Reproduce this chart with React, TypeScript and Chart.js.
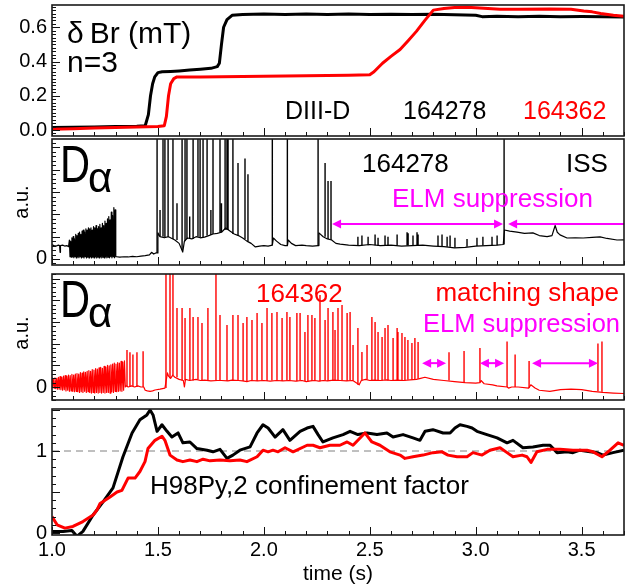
import { useEffect, useRef } from "react";
import { Chart, registerables } from "chart.js";

Chart.register(...registerables);

const FONT = "'Liberation Sans', Arial, Helvetica, sans-serif";
Chart.defaults.font.family = FONT;

type Pt = [number, number];
type Spike = [number, number, number]; // time, base, peak
type Arrow = [number, number, number, number, number]; // t0, t1, level, headLeft, headRight

// ---------------- shared time axis ----------------
const X_MIN = 1.0;
const X_MAX = 3.7;
const xLabelTicks = [1.0, 1.5, 2.0, 2.5, 3.0, 3.5];
const xMinorStep = 0.1;

// ---------------- panel 1: delta Br (mT), n=3 ----------------
const dBr164278: Pt[] = [
  [1.0, 0.015], [1.1, 0.016], [1.2, 0.018], [1.3, 0.02], [1.4, 0.022], [1.44, 0.025], [1.455, 0.09],
  [1.465, 0.2], [1.475, 0.27], [1.485, 0.31], [1.5, 0.335], [1.52, 0.34], [1.56, 0.342], [1.6, 0.345],
  [1.65, 0.35], [1.7, 0.355], [1.75, 0.36], [1.78, 0.37], [1.79, 0.39], [1.8, 0.5], [1.81, 0.6],
  [1.826, 0.645], [1.85, 0.67], [1.9, 0.675], [2.0, 0.678], [2.1, 0.675], [2.2, 0.678], [2.3, 0.674],
  [2.4, 0.677], [2.5, 0.674], [2.6, 0.676], [2.7, 0.674], [2.8, 0.676], [2.9, 0.673], [3.0, 0.67],
  [3.03, 0.662], [3.1, 0.664], [3.2, 0.662], [3.3, 0.664], [3.4, 0.662], [3.5, 0.663], [3.6, 0.662], [3.7, 0.66],
];
const dBr164362: Pt[] = [
  [1.0, 0.005], [1.1, 0.008], [1.2, 0.011], [1.3, 0.014], [1.4, 0.017], [1.5, 0.02], [1.53, 0.025],
  [1.54, 0.08], [1.55, 0.2], [1.56, 0.27], [1.575, 0.3], [1.59, 0.31], [1.7, 0.31], [1.8, 0.311],
  [1.9, 0.312], [2.0, 0.314], [2.1, 0.315], [2.2, 0.317], [2.3, 0.318], [2.4, 0.32], [2.5, 0.323],
  [2.52, 0.34], [2.56, 0.39], [2.6, 0.43], [2.643, 0.47], [2.68, 0.52], [2.72, 0.576], [2.76, 0.64],
  [2.8, 0.7], [2.85, 0.71], [2.9, 0.715], [2.96, 0.717], [3.0, 0.714], [3.115, 0.705], [3.2, 0.705],
  [3.35, 0.707], [3.45, 0.705], [3.51, 0.695], [3.55, 0.69], [3.59, 0.68], [3.65, 0.67], [3.7, 0.665],
];

// ---------------- panel 2: D-alpha 164278 (a.u.) ----------------
const dAlpha164278: Pt[] = [
  [1.0, 0.63], [1.01, 0.6], [1.02, 0.58], [1.03, 0.62], [1.036, 0.6], [1.038, 0.3], [1.04, 0.6],
  [1.05, 0.62], [1.06, 0.58], [1.07, 0.6], [1.078, 0.55],
  [1.08, 0.55], [1.082, 0.85], [1.085, 0.1], [1.088, 0.8], [1.091, 0.08], [1.094, 0.95], [1.097, 0.1],
  [1.1, 1.0], [1.103, 0.06], [1.106, 0.9], [1.109, 0.1], [1.112, 1.1], [1.115, 0.05], [1.118, 1.05],
  [1.121, 0.1], [1.124, 1.15], [1.127, 0.06], [1.13, 1.2], [1.133, 0.1], [1.136, 1.1], [1.139, 0.05],
  [1.142, 1.25], [1.145, 0.08], [1.148, 1.3], [1.151, 0.05], [1.154, 1.2], [1.157, 0.1], [1.16, 1.35],
  [1.163, 0.05], [1.166, 1.3], [1.169, 0.08], [1.172, 1.4], [1.175, 0.05], [1.178, 1.35], [1.181, 0.1],
  [1.184, 1.4], [1.187, 0.05], [1.19, 1.3], [1.193, 0.08], [1.196, 1.45], [1.199, 0.05], [1.202, 1.4],
  [1.205, 0.1], [1.208, 1.5], [1.211, 0.05], [1.214, 1.35], [1.217, 0.08], [1.22, 1.45], [1.223, 0.05],
  [1.226, 1.55], [1.229, 0.1], [1.232, 1.4], [1.235, 0.05], [1.238, 1.6], [1.241, 0.08], [1.244, 1.5],
  [1.247, 0.05], [1.25, 1.7], [1.253, 0.1], [1.256, 1.6], [1.259, 0.05], [1.262, 1.8], [1.265, 0.08],
  [1.268, 1.9], [1.271, 0.05], [1.274, 1.75], [1.277, 0.1], [1.28, 2.1], [1.283, 0.05], [1.286, 1.95],
  [1.289, 0.1], [1.292, 2.3], [1.295, 0.06], [1.298, 2.2], [1.301, 0.1],
  [1.305, 0.1], [1.32, 0.08], [1.34, 0.1], [1.36, 0.09], [1.38, 0.12], [1.4, 0.1], [1.42, 0.13],
  [1.44, 0.15], [1.46, 0.18], [1.47, 0.3], [1.48, 0.22], [1.49, 0.27], [1.496, 0.27],
  [1.5, 1.17], [1.51, 1.0], [1.53, 0.95], [1.55, 1.0], [1.58, 0.85], [1.6, 0.7], [1.617, 0.31],
  [1.625, 0.8], [1.64, 0.94], [1.66, 0.9], [1.68, 1.0], [1.7, 0.95], [1.72, 0.98], [1.74, 1.05],
  [1.76, 1.12], [1.78, 1.15], [1.8, 1.2], [1.82, 1.39], [1.84, 1.25], [1.86, 1.12], [1.88, 1.05],
  [1.9, 0.94], [1.92, 0.8], [1.94, 0.7], [1.96, 0.54], [1.98, 0.58], [2.0, 0.6], [2.02, 0.58],
  [2.04, 0.62], [2.045, 0.94], [2.06, 0.8], [2.08, 0.65], [2.1, 0.6], [2.111, 0.6], [2.115, 0.85],
  [2.13, 0.7], [2.15, 0.6], [2.18, 0.62], [2.2, 0.6], [2.23, 0.58], [2.256, 0.6], [2.26, 1.17],
  [2.28, 1.0], [2.3, 0.9], [2.32, 0.85], [2.34, 0.7], [2.36, 0.67], [2.4, 0.62], [2.45, 0.6],
  [2.5, 0.65], [2.55, 0.6], [2.6, 0.62], [2.65, 0.58], [2.7, 0.6], [2.75, 0.62], [2.8, 0.58],
  [2.85, 0.55], [2.9, 0.5], [2.95, 0.52], [3.0, 0.58], [3.05, 0.6], [3.1, 0.62], [3.13, 0.65],
  [3.136, 1.3], [3.16, 1.25], [3.195, 1.2], [3.23, 1.15], [3.27, 1.17], [3.3, 1.05], [3.337, 1.0],
  [3.36, 1.05], [3.375, 1.5], [3.385, 1.2], [3.398, 1.08], [3.431, 0.94], [3.47, 0.95], [3.507, 0.94],
  [3.55, 0.97], [3.587, 0.99], [3.62, 0.92], [3.667, 0.85], [3.7, 0.86],
];
const elms164278: Spike[] = [
  [1.496, 0.27, 6], [1.51, 1.0, 2.2], [1.524, 1.0, 6], [1.533, 0.95, 6], [1.548, 1.0, 6], [1.571, 0.9, 6],
  [1.59, 0.85, 2.5], [1.614, 0.4, 6], [1.628, 0.8, 6], [1.637, 0.9, 6], [1.65, 0.92, 1.9], [1.666, 0.9, 6],
  [1.689, 1.0, 6], [1.699, 0.95, 6], [1.713, 0.98, 6], [1.732, 1.05, 6], [1.75, 1.08, 2.2], [1.76, 1.12, 6],
  [1.793, 1.18, 6], [1.8, 1.2, 2.5], [1.817, 1.3, 6], [1.826, 1.3, 6], [1.831, 1.3, 6], [1.854, 1.12, 6],
  [1.878, 1.05, 4.3], [1.911, 0.9, 4.5], [1.925, 0.8, 3.8], [2.04, 0.62, 6], [2.111, 0.6, 6], [2.256, 0.6, 6],
  [2.289, 1.0, 4.3], [2.303, 0.9, 3.5], [2.317, 0.85, 3.5],
  [2.444, 0.6, 1.0], [2.463, 0.6, 1.05], [2.492, 0.62, 1.0], [2.525, 0.62, 1.1], [2.539, 0.6, 0.95],
  [2.572, 0.6, 1.05], [2.586, 0.6, 1.0], [2.629, 0.6, 1.1], [2.676, 0.6, 1.2], [2.681, 0.6, 1.15],
  [2.704, 0.6, 1.05], [2.723, 0.6, 1.2], [2.728, 0.6, 1.1], [2.822, 0.58, 1.05], [2.841, 0.56, 1.1],
  [2.865, 0.55, 1.0], [2.879, 0.55, 1.05], [2.902, 0.5, 0.95], [2.959, 0.55, 0.9], [3.006, 0.58, 0.95],
  [3.034, 0.6, 1.0], [3.077, 0.6, 1.0], [3.101, 0.62, 1.05],
];
const issBoundary: Spike[] = [[3.134, 0.65, 6]];
const suppression164278: Arrow[] = [
  [2.322, 3.129, 1.57, 1, 1],
  [3.153, 3.7, 1.57, 1, 0],
];

// ---------------- panel 3: D-alpha 164362 (a.u.) ----------------
const dAlpha164362: Pt[] = [
  [1.0, 0.41], [1.002, -0.02], [1.006, 0.38], [1.01, -0.05], [1.014, 0.42], [1.018, -0.08], [1.022, 0.4],
  [1.026, -0.1], [1.03, 0.45], [1.034, -0.1], [1.038, 0.48], [1.042, -0.12], [1.046, 0.45], [1.05, -0.15],
  [1.054, 0.5], [1.058, -0.12], [1.062, 0.52], [1.066, -0.18], [1.07, 0.5], [1.074, -0.15], [1.078, 0.55],
  [1.082, -0.2], [1.086, 0.52], [1.09, -0.18], [1.094, 0.58], [1.098, -0.2], [1.102, 0.55], [1.106, -0.22],
  [1.11, 0.6], [1.114, -0.2], [1.118, 0.62], [1.122, -0.22], [1.126, 0.6], [1.13, -0.25], [1.134, 0.66],
  [1.138, -0.22], [1.142, 0.64], [1.146, -0.25], [1.15, 0.7], [1.154, -0.2], [1.158, 0.68], [1.162, -0.25],
  [1.166, 0.72], [1.17, -0.22], [1.174, 0.75], [1.178, -0.25], [1.182, 0.72], [1.186, -0.28], [1.19, 0.8],
  [1.194, -0.25], [1.198, 0.78], [1.202, -0.28], [1.206, 0.85], [1.21, -0.25], [1.214, 0.82], [1.218, -0.28],
  [1.222, 0.88], [1.226, -0.25], [1.23, 0.9], [1.234, -0.28], [1.238, 0.86], [1.242, -0.25], [1.246, 0.95],
  [1.25, -0.28], [1.254, 0.92], [1.258, -0.25], [1.262, 1.0], [1.266, -0.25], [1.27, 0.98], [1.274, -0.28],
  [1.278, 1.02], [1.282, -0.22], [1.286, 1.05], [1.29, -0.25], [1.294, 1.1], [1.298, -0.2], [1.302, 1.05],
  [1.306, -0.22], [1.31, 1.12], [1.314, -0.2], [1.318, 1.1], [1.322, -0.18], [1.326, 1.18], [1.33, -0.2],
  [1.334, 1.15], [1.338, -0.15], [1.342, 1.2], [1.346, 0.0],
  [1.35, 0.05], [1.36, 0.0], [1.375, 0.05], [1.39, 0.0], [1.405, 0.05], [1.42, 0.0], [1.433, 0.0],
  [1.44, -0.15], [1.45, -0.18], [1.463, -0.2], [1.475, -0.18], [1.486, -0.14], [1.51, -0.1], [1.533, -0.05],
  [1.545, 0.65], [1.55, 0.5], [1.56, 0.4], [1.57, 0.55], [1.58, 0.45], [1.6, 0.35], [1.62, 0.3],
  [1.625, 0.0], [1.63, 0.35], [1.65, 0.3], [1.68, 0.35], [1.7, 0.3], [1.72, 0.32], [1.75, 0.28],
  [1.78, 0.3], [1.8, 0.3], [1.83, 0.28], [1.85, 0.32], [1.88, 0.3], [1.9, 0.28], [1.92, 0.25],
  [1.94, 0.3], [1.97, 0.28], [2.0, 0.3], [2.03, 0.27], [2.06, 0.3], [2.09, 0.28], [2.12, 0.3],
  [2.15, 0.27], [2.18, 0.3], [2.2, 0.25], [2.22, 0.28], [2.24, 0.3], [2.26, 0.27], [2.28, 0.3],
  [2.3, 0.28], [2.33, 0.32], [2.36, 0.3], [2.39, 0.28], [2.42, 0.3], [2.45, 0.1], [2.46, 0.3],
  [2.48, 0.35], [2.5, 0.3], [2.52, 0.32], [2.55, 0.3], [2.58, 0.33], [2.6, 0.3], [2.63, 0.32],
  [2.66, 0.3], [2.69, 0.33], [2.72, 0.35], [2.74, 0.4], [2.76, 0.45], [2.8, 0.35], [2.85, 0.3],
  [2.9, 0.25], [2.95, 0.2], [3.0, 0.18], [3.02, 0.2], [3.025, 0.3], [3.04, 0.15], [3.08, 0.1],
  [3.1, 0.05], [3.148, 0.0], [3.155, -0.05], [3.17, 0.0], [3.2, 0.0], [3.25, -0.05], [3.26, 0.1],
  [3.28, -0.05], [3.3, -0.15], [3.35, -0.2], [3.4, -0.12], [3.45, -0.1], [3.5, -0.12], [3.55, -0.2],
  [3.6, -0.25], [3.65, -0.28], [3.7, -0.3],
];
const elms164362: Spike[] = [
  [1.354, 0.05, 1.7], [1.368, 0.0, 1.6], [1.382, 0.05, 1.5], [1.401, 0.0, 1.6], [1.43, 0.0, 1.65],
  [1.538, -0.05, 6], [1.557, 0.4, 6], [1.571, 0.55, 6], [1.59, 0.45, 3.64], [1.614, 0.3, 3.64],
  [1.628, 0.3, 3.18], [1.651, 0.3, 3.64], [1.666, 0.3, 3.23], [1.689, 0.35, 3.23], [1.708, 0.3, 2.95],
  [1.736, 0.3, 3.64], [1.774, 0.3, 6], [1.793, 0.3, 3.32], [1.826, 0.28, 2.86], [1.854, 0.3, 3.32],
  [1.878, 0.3, 3.32], [1.902, 0.28, 2.95], [1.92, 0.25, 3.23], [1.944, 0.3, 3.09], [1.968, 0.28, 3.41],
  [1.991, 0.3, 2.95], [2.015, 0.28, 3.64], [2.038, 0.3, 3.41], [2.062, 0.3, 3.46], [2.086, 0.28, 3.18],
  [2.109, 0.3, 3.46], [2.123, 0.3, 3.23], [2.156, 0.27, 3.41], [2.171, 0.3, 3.41], [2.194, 0.28, 2.53],
  [2.208, 0.25, 3.32], [2.227, 0.28, 3.32], [2.241, 0.3, 3.18], [2.265, 0.27, 4.24], [2.289, 0.3, 3.09],
  [2.303, 0.28, 3.64], [2.326, 0.32, 3.46], [2.336, 0.3, 2.63], [2.35, 0.3, 3.64], [2.369, 0.3, 3.78],
  [2.393, 0.28, 3.41], [2.407, 0.3, 3.46], [2.421, 0.3, 1.94], [2.444, 0.1, 2.72], [2.463, 0.3, 1.61],
  [2.487, 0.35, 1.94], [2.51, 0.3, 3.23], [2.525, 0.32, 3.0], [2.539, 0.3, 2.53], [2.558, 0.3, 2.3],
  [2.572, 0.33, 2.72], [2.586, 0.3, 2.86], [2.61, 0.32, 2.26], [2.629, 0.3, 2.72], [2.633, 0.3, 2.53],
  [2.652, 0.3, 2.49], [2.666, 0.3, 2.3], [2.68, 0.33, 2.17], [2.699, 0.33, 2.03], [2.713, 0.35, 2.26],
  [2.728, 0.38, 2.07],
  [2.874, 0.3, 1.6], [2.945, 0.2, 1.66], [3.02, 0.2, 1.8], [3.148, 0.0, 2.1], [3.186, 0.0, 1.5],
  [3.252, -0.05, 1.2], [3.577, -0.2, 2.0], [3.596, -0.22, 2.1],
];
const suppression164362: Arrow[] = [
  [2.747, 2.86, 1.1, 1, 1],
  [3.02, 3.134, 1.1, 1, 1],
  [3.266, 3.577, 1.1, 1, 1],
];

// ---------------- panel 4: H98Py,2 confinement factor ----------------
const h98_164278: Pt[] = [
  [1.0, 0.02], [1.052, 0.02], [1.094, 0.03], [1.118, -0.04], [1.146, 0.02], [1.194, 0.22], [1.241, 0.38],
  [1.288, 0.55], [1.335, 0.93], [1.378, 1.22], [1.415, 1.38], [1.448, 1.44], [1.463, 1.5], [1.477, 1.44],
  [1.496, 1.24], [1.519, 1.32], [1.543, 1.24], [1.566, 1.17], [1.595, 1.22], [1.618, 1.1], [1.651, 1.11],
  [1.684, 1.03], [1.732, 1.01], [1.76, 0.99], [1.793, 1.02], [1.826, 0.91], [1.854, 0.95], [1.887, 1.01],
  [1.935, 1.05], [1.968, 1.22], [1.996, 1.32], [2.02, 1.28], [2.053, 1.17], [2.09, 1.26], [2.123, 1.13],
  [2.171, 1.24], [2.204, 1.28], [2.232, 1.3], [2.256, 1.2], [2.279, 1.11], [2.326, 1.16], [2.374, 1.2],
  [2.407, 1.24], [2.444, 1.2], [2.487, 1.22], [2.534, 1.2], [2.581, 1.22], [2.61, 1.17], [2.657, 1.2],
  [2.704, 1.16], [2.737, 1.13], [2.761, 1.24], [2.798, 1.26], [2.846, 1.22], [2.879, 1.22], [2.902, 1.28],
  [2.926, 1.32], [2.959, 1.3], [2.983, 1.28], [3.006, 1.24], [3.053, 1.2], [3.101, 1.16], [3.148, 1.1],
  [3.176, 1.13], [3.223, 1.04], [3.27, 1.05], [3.318, 1.07], [3.351, 1.07], [3.384, 0.98], [3.431, 0.99],
  [3.459, 0.98], [3.492, 1.01], [3.54, 0.99], [3.573, 0.98], [3.601, 0.95], [3.648, 0.98], [3.7, 1.01],
];
const h98_164362: Pt[] = [
  [1.0, 0.2], [1.024, 0.1], [1.061, 0.06], [1.099, 0.08], [1.146, 0.14], [1.194, 0.22], [1.212, 0.28],
  [1.227, 0.36], [1.274, 0.44], [1.307, 0.5], [1.33, 0.52], [1.359, 0.67], [1.392, 0.67], [1.415, 0.75],
  [1.439, 0.87], [1.453, 1.03], [1.486, 1.13], [1.519, 1.18], [1.533, 1.13], [1.557, 0.95], [1.59, 0.89],
  [1.618, 0.87], [1.651, 0.89], [1.684, 0.87], [1.713, 0.9], [1.746, 0.88], [1.793, 0.89], [1.84, 0.88],
  [1.887, 0.89], [1.92, 0.87], [1.968, 0.93], [1.996, 1.01], [2.02, 0.99], [2.043, 1.01], [2.067, 0.99],
  [2.1, 1.04], [2.138, 0.99], [2.204, 1.07], [2.232, 1.07], [2.265, 1.04], [2.312, 1.07], [2.359, 1.07],
  [2.393, 1.11], [2.421, 1.07], [2.477, 1.22], [2.51, 1.11], [2.548, 1.07], [2.595, 0.99], [2.643, 0.95],
  [2.666, 0.91], [2.704, 0.93], [2.751, 0.95], [2.798, 0.98], [2.841, 0.99], [2.869, 0.95], [2.912, 0.93],
  [2.959, 0.93], [2.987, 0.98], [3.03, 0.95], [3.067, 1.01], [3.115, 1.04], [3.148, 0.98], [3.176, 0.93],
  [3.219, 0.95], [3.242, 0.93], [3.261, 0.86], [3.289, 0.99], [3.337, 1.02], [3.398, 1.02], [3.459, 1.01],
  [3.525, 1.01], [3.554, 0.99], [3.596, 0.93], [3.634, 1.01], [3.672, 1.1], [3.7, 1.07],
];
const h98Reference: Pt[] = [[1.0, 1.0], [3.7, 1.0]];

// ---------------- helpers ----------------
const toXY = (a: Pt[]) => a.map(([x, y]) => ({ x, y }));
const spikesToXY = (a: Spike[]) =>
  a.flatMap(([t, lo, hi]) => [{ x: t, y: lo }, { x: t, y: hi }, { x: t, y: null as any }]);

const RED = "#ff0000";
const MAGENTA = "#ff00ff";

const line = (data: any[], color: string, width: number, extra: any = {}) => ({
  data,
  borderColor: color,
  backgroundColor: color,
  borderWidth: width,
  pointRadius: 0,
  tension: 0,
  fill: false,
  spanGaps: false,
  borderJoinStyle: "round",
  ...extra,
});

type TextItem = {
  text: string;
  x: number;
  y: number;
  size: number;
  color?: string;
  align?: CanvasTextAlign;
  scaleX?: number;
  rotate?: boolean;
};

type Panel = {
  top: number;
  h: number;
  padTop: number;
  padBottom: number;
  yMin: number;
  yMax: number;
  yLabels: number[];
  yDigits: number;
  yMajor: number[];
  yMinorStep: number;
  showX: boolean;
  datasets: any[];
  texts: TextItem[];
  arrows: Arrow[];
};

const panels: Panel[] = [
  {
    top: 0, h: 140, padTop: 5, padBottom: 4,
    yMin: -0.035, yMax: 0.73, yLabels: [0, 0.2, 0.4, 0.6], yDigits: 1,
    yMajor: [0, 0.2, 0.4, 0.6], yMinorStep: 0.02, showX: false,
    datasets: [
      line(toXY(dBr164362), RED, 3, { order: 0 }),
      line(toXY(dBr164278), "#000", 3, { order: 1 }),
    ],
    texts: [
      { text: "\u03B4\u2009Br (mT)", x: 67, y: 43, size: 30 },
      { text: "n=3", x: 67, y: 72, size: 30 },
      { text: "DIII-D", x: 285, y: 119, size: 25 },
      { text: "164278", x: 403, y: 119, size: 25 },
      { text: "164362", x: 523, y: 119, size: 25, color: RED },
    ],
    arrows: [],
  },
  {
    top: 137, h: 130, padTop: 2, padBottom: 2,
    yMin: -0.27, yMax: 5.38, yLabels: [0], yDigits: 0,
    yMajor: [0, 1, 2, 3, 4, 5], yMinorStep: 0.2, showX: false,
    datasets: [
      line(toXY(dAlpha164278), "#000", 1.2),
      line(spikesToXY(elms164278), "#000", 1.4),
      line(spikesToXY(issBoundary), "#000", 1.4),
    ],
    texts: [
      { text: "D", x: 60, y: 182, size: 52, scaleX: 0.8 },
      { text: "\u03B1", x: 88, y: 192, size: 42 },
      { text: "a.u.", x: 22, y: 202, size: 20, rotate: true },
      { text: "164278", x: 362, y: 172, size: 26 },
      { text: "ISS", x: 566, y: 172, size: 26 },
      { text: "ELM suppression", x: 392, y: 207, size: 26, color: MAGENTA },
    ],
    arrows: suppression164278,
  },
  {
    top: 270, h: 132, padTop: 4, padBottom: 2,
    yMin: -0.6, yMax: 5.21, yLabels: [0], yDigits: 0,
    yMajor: [0, 1, 2, 3, 4, 5], yMinorStep: 0.2, showX: false,
    datasets: [
      line(toXY(dAlpha164362), RED, 1.2),
      line(spikesToXY(elms164362), RED, 1.4),
    ],
    texts: [
      { text: "D", x: 60, y: 317, size: 52, scaleX: 0.8 },
      { text: "\u03B1", x: 88, y: 327, size: 42 },
      { text: "a.u.", x: 22, y: 333, size: 20, rotate: true },
      { text: "164362", x: 256, y: 302, size: 26, color: RED },
      { text: "matching shape", x: 619, y: 301, size: 26, color: RED, align: "right" },
      { text: "ELM suppression", x: 620, y: 332, size: 25.5, color: MAGENTA, align: "right" },
    ],
    arrows: suppression164362,
  },
  {
    top: 403, h: 184, padTop: 6, padBottom: 0,
    yMin: -0.024, yMax: 1.512, yLabels: [0, 1], yDigits: 0,
    yMajor: [0, 0.5, 1.0, 1.5], yMinorStep: 0.1, showX: true,
    datasets: [
      line(toXY(h98_164362), RED, 3, { order: 0 }),
      line(toXY(h98_164278), "#000", 3, { order: 1 }),
      line(toXY(h98Reference), "#808080", 1, { order: 2, borderDash: [7, 5] }),
    ],
    texts: [
      { text: "H98Py,2 confinement factor", x: 150, y: 494, size: 26 },
    ],
    arrows: [],
  },
];

function minorValues(min: number, max: number, step: number) {
  const out: number[] = [];
  const start = Math.ceil(min / step - 1e-9);
  const end = Math.floor(max / step + 1e-9);
  for (let k = start; k <= end; k++) out.push(+(k * step).toFixed(6));
  return out;
}

function makeDeco(p: Panel) {
  return {
    id: "panelDeco",
    afterDatasetsDraw(chart: any) {
      const ctx: CanvasRenderingContext2D = chart.ctx;
      const { left, right, top, bottom } = chart.chartArea;
      const xs = chart.scales.x;
      const ys = chart.scales.y;
      ctx.save();

      // arrows
      ctx.strokeStyle = MAGENTA;
      ctx.fillStyle = MAGENTA;
      ctx.lineWidth = 2;
      for (const [t0, t1, lvl, hl, hr] of p.arrows) {
        const x0 = xs.getPixelForValue(t0);
        const x1 = Math.min(xs.getPixelForValue(t1), right);
        const y = ys.getPixelForValue(lvl);
        const hlLen = 9, hw = 4.5;
        ctx.beginPath();
        ctx.moveTo(x0 + (hl ? hlLen - 1 : 0), y);
        ctx.lineTo(x1 - (hr ? hlLen - 1 : 0), y);
        ctx.stroke();
        if (hl) {
          ctx.beginPath();
          ctx.moveTo(x0, y);
          ctx.lineTo(x0 + hlLen, y - hw);
          ctx.lineTo(x0 + hlLen, y + hw);
          ctx.closePath();
          ctx.fill();
        }
        if (hr) {
          ctx.beginPath();
          ctx.moveTo(x1, y);
          ctx.lineTo(x1 - hlLen, y - hw);
          ctx.lineTo(x1 - hlLen, y + hw);
          ctx.closePath();
          ctx.fill();
        }
      }

      // inward ticks
      ctx.strokeStyle = "#111";
      ctx.lineWidth = 1;
      const xMajor = xLabelTicks;
      for (const v of minorValues(X_MIN, X_MAX, xMinorStep)) {
        const isMajor = xMajor.some((m) => Math.abs(m - v) < 1e-6);
        const x = Math.round(xs.getPixelForValue(v)) + 0.5;
        ctx.beginPath();
        ctx.moveTo(x, bottom);
        ctx.lineTo(x, bottom - (isMajor ? 8 : 4));
        ctx.stroke();
      }
      for (const v of minorValues(p.yMin, p.yMax, p.yMinorStep)) {
        const isMajor = p.yMajor.some((m) => Math.abs(m - v) < 1e-6);
        const y = Math.round(ys.getPixelForValue(v)) + 0.5;
        ctx.beginPath();
        ctx.moveTo(left, y);
        ctx.lineTo(left + (isMajor ? 8 : 4), y);
        ctx.stroke();
      }

      // frame
      ctx.strokeStyle = "#1a1a1a";
      ctx.lineWidth = 1.6;
      ctx.strokeRect(left, top, right - left, bottom - top);

      // texts
      for (const t of p.texts) {
        ctx.save();
        ctx.fillStyle = t.color || "#000";
        ctx.font = `${t.size}px ${FONT}`;
        const y = t.y - p.top;
        if (t.rotate) {
          ctx.translate(t.x, y);
          ctx.rotate(-Math.PI / 2);
          ctx.textAlign = "center";
          ctx.textBaseline = "middle";
          ctx.fillText(t.text, 0, 0);
        } else {
          ctx.textAlign = t.align || "left";
          ctx.textBaseline = "alphabetic";
          ctx.translate(t.x, y);
          if (t.scaleX) ctx.scale(t.scaleX, 1);
          ctx.fillText(t.text, 0, 0);
        }
        ctx.restore();
      }
      ctx.restore();
    },
  };
}

function buildConfig(p: Panel): any {
  return {
    type: "line",
    data: { datasets: p.datasets },
    options: {
      responsive: false,
      maintainAspectRatio: false,
      animation: false,
      devicePixelRatio: 1,
      events: [],
      layout: { padding: { left: 0, right: 12, top: p.padTop, bottom: p.padBottom } },
      plugins: {
        legend: { display: false },
        tooltip: { enabled: false },
        title: { display: false },
      },
      scales: {
        x: {
          type: "linear",
          min: X_MIN,
          max: X_MAX,
          display: p.showX,
          grid: { display: false, drawTicks: false },
          border: { display: false },
          afterBuildTicks: (s: any) => {
            s.ticks = xLabelTicks.map((v) => ({ value: v }));
          },
          ticks: {
            color: "#000",
            font: { size: 20, family: FONT },
            padding: 3,
            maxRotation: 0,
            autoSkip: false,
            callback: (v: any) => Number(v).toFixed(1),
          },
          title: {
            display: p.showX,
            text: "time (s)",
            color: "#000",
            font: { size: 21, family: FONT },
            padding: { top: 0, bottom: 0 },
          },
          afterFit: (s: any) => {
            if (p.showX) s.height = 52;
            s.paddingLeft = 0;
            s.paddingRight = 0;
          },
        },
        y: {
          type: "linear",
          min: p.yMin,
          max: p.yMax,
          grid: { display: false, drawTicks: false },
          border: { display: false },
          afterBuildTicks: (s: any) => {
            s.ticks = p.yLabels.map((v) => ({ value: v }));
          },
          ticks: {
            color: "#000",
            font: { size: 20, family: FONT },
            padding: 5,
            autoSkip: false,
            callback: (v: any) => Number(v).toFixed(p.yDigits),
          },
          afterFit: (s: any) => {
            s.width = 52;
            s.paddingTop = 0;
            s.paddingBottom = 0;
          },
        },
      },
    },
    plugins: [makeDeco(p)],
  };
}

export default function App() {
  const refs = useRef<(HTMLCanvasElement | null)[]>([]);
  useEffect(() => {
    const charts = panels.map((p, i) => new Chart(refs.current[i] as HTMLCanvasElement, buildConfig(p)));
    return () => charts.forEach((c) => c.destroy());
  }, []);
  return (
    <div style={{ position: "absolute", left: 0, top: 0, width: 636, height: 587, background: "#fff" }}>
      {panels.map((p, i) => (
        <canvas
          key={i}
          ref={(el) => {
            refs.current[i] = el;
          }}
          width={636}
          height={p.h}
          style={{ position: "absolute", left: 0, top: p.top, width: 636, height: p.h }}
        />
      ))}
    </div>
  );
}
